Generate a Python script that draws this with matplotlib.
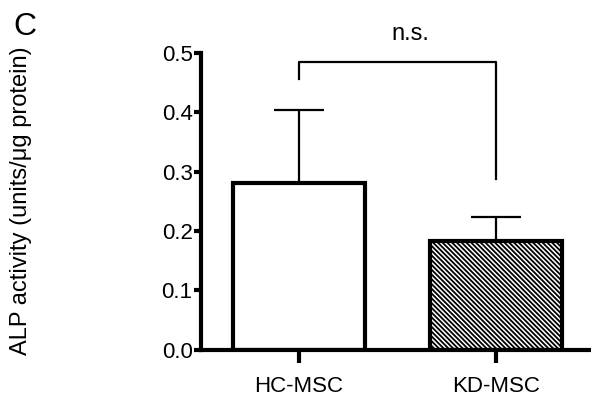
import matplotlib
matplotlib.use("Agg")
import matplotlib.pyplot as plt

plt.rcParams['font.family'] = ['Liberation Sans', 'DejaVu Sans']
plt.rcParams['hatch.linewidth'] = 1.3

groups = ["HC-MSC", "KD-MSC"]
means = [0.280, 0.183]
errs = [0.123, 0.040]
hatches = ["", "\\\\\\\\\\\\\\"]

fig = plt.figure(figsize=(5.91, 4.05), dpi=100)
ax = fig.add_axes([0.340, 0.136, 0.660, 0.734])

x = list(range(len(groups)))
for i in x:
    ax.bar(i, means[i], width=0.67, color="white", edgecolor="black",
           linewidth=3, hatch=hatches[i], zorder=2)
    ax.errorbar(i, means[i], yerr=[[0], [errs[i]]], fmt="none", ecolor="black",
                elinewidth=1.6, capsize=18, capthick=1.6, zorder=1)

# bracket + n.s.
ax.plot([0, 0, 1, 1], [0.455, 0.485, 0.485, 0.287], color="black", lw=1.6,
        clip_on=False)
ax.text(0.565, 0.513, "n.s.", ha="center", va="bottom", fontsize=17)

ax.set_xlim(-0.497, 1.48)
ax.set_ylim(0, 0.5)
ax.set_yticks([0, 0.1, 0.2, 0.3, 0.4, 0.5])
ax.set_yticklabels(["0.0", "0.1", "0.2", "0.3", "0.4", "0.5"])
ax.set_xticks(x)
ax.set_xticklabels(groups, fontsize=16)

for s in ["top", "right"]:
    ax.spines[s].set_visible(False)
for s in ["left", "bottom"]:
    ax.spines[s].set_linewidth(3)
ax.tick_params(axis="y", length=5, width=3, labelsize=16, pad=1)
ax.tick_params(axis="x", length=9, width=3, pad=10)

fig.text(0.035, 0.505, "ALP activity (units/\u03bcg protein)", rotation=90,
         ha="center", va="center", fontsize=17)
fig.text(0.022, 0.914, "C", ha="left", va="baseline", fontsize=23)

fig.savefig("out.png", dpi=100)
